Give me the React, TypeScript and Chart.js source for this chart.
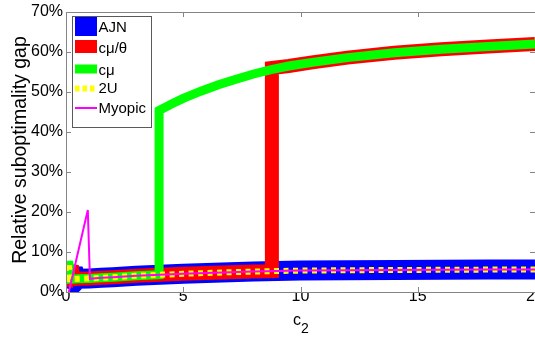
import React, { useEffect, useRef } from "react";
import { Chart, registerables } from "chart.js";

Chart.register(...registerables);

const FONT = '"Liberation Sans", Arial, Helvetica, sans-serif';

const xTickValues = [0, 5, 10, 15, 20];
const yTickValues = [0, 10, 20, 30, 40, 50, 60, 70];

const legendLabels = ["AJN", "cμ/θ", "cμ", "2U", "Myopic"];

const ajnX = [0, 0.3, 0.45, 0.5, 1, 1.5, 2, 3, 4, 5, 6, 7, 8, 9, 10, 12, 14, 16, 18, 20];
const ajnY = [1.0, 5.6, 3.0, 3.3, 3.4, 3.55, 3.7, 4.05, 4.3, 4.55, 4.75, 4.95, 5.1, 5.25, 5.35, 5.45, 5.5, 5.55, 5.6, 5.65];

const cmuThetaX = [0, 0.25, 0.3, 0.5, 1, 1.5, 2, 3, 4, 5, 6, 7, 8, 8.78, 8.78, 9.5, 10.5, 12, 14, 16, 18, 20];
const cmuThetaY = [1.5, 6.6, 3.2, 3.3, 3.4, 3.55, 3.7, 4.05, 4.3, 4.55, 4.75, 4.95, 5.1, 5.2, 56.0, 56.5, 57.4, 58.6, 59.8, 60.7, 61.4, 62.0];

const cmuX = [0, 0.13, 0.17, 0.5, 1, 1.5, 2, 3, 3.97, 3.97, 4.5, 5, 5.75, 6.5, 7.25, 8, 8.75, 9.5, 10.5, 12, 14, 16, 18, 20];
const cmuY = [6.7, 6.7, 3.2, 3.3, 3.4, 3.55, 3.7, 4.05, 4.3, 45.4, 47.0, 48.4, 50.2, 51.8, 53.2, 54.5, 55.6, 56.5, 57.4, 58.6, 59.8, 60.7, 61.4, 62.0];

const twoUX = [0, 0.13, 0.17, 0.5, 1, 1.5, 2, 3, 4, 5, 6, 7, 8, 9, 10, 12, 14, 16, 18, 20];
const twoUY = [6.0, 6.0, 3.2, 3.3, 3.4, 3.55, 3.7, 4.05, 4.3, 4.55, 4.75, 4.95, 5.1, 5.25, 5.35, 5.45, 5.5, 5.55, 5.6, 5.65];

const myopicX = [0.12, 0.93, 1.02, 1.5, 2, 3, 4, 5, 6, 7, 8, 9, 10, 12, 14, 16, 18, 20];
const myopicY = [0, 20.5, 3.3, 3.55, 3.7, 4.05, 4.3, 4.55, 4.75, 4.95, 5.1, 5.25, 5.35, 5.45, 5.5, 5.55, 5.6, 5.65];

const zip = (xs: number[], ys: number[]) => xs.map((x, i) => ({ x, y: ys[i] }));

const seriesStyles = [
  { color: "#0000FF", width: 20, legendWidth: 19, dash: [] as number[], order: 5 },
  { color: "#FF0000", width: 14, legendWidth: 13, dash: [] as number[], order: 4 },
  { color: "#00FF00", width: 9, legendWidth: 9, dash: [] as number[], order: 3 },
  { color: "#FFFF00", width: 6, legendWidth: 6, dash: [5, 4.5], order: 2 },
  { color: "#FF00FF", width: 2, legendWidth: 2, dash: [] as number[], order: 1 },
];

const miterPlugin = {
  id: "miterLimit",
  beforeDatasetsDraw(chart: any) {
    chart.ctx.miterLimit = 2;
  },
};

const framePlugin = {
  id: "matlabFrame",
  afterDraw(chart: any) {
    const { ctx, chartArea: a, scales } = chart;
    const xs = scales.x;
    const ys = scales.y;
    ctx.save();
    ctx.strokeStyle = "#858585";
    ctx.lineWidth = 1;
    ctx.beginPath();
    ctx.rect(a.left + 0.5, a.top + 0.5, a.right - a.left, a.bottom - a.top);
    ctx.stroke();
    ctx.beginPath();
    const tl = 5;
    xTickValues.forEach((v) => {
      const px = Math.round(xs.getPixelForValue(v)) + 0.5;
      ctx.moveTo(px, a.bottom);
      ctx.lineTo(px, a.bottom - tl);
      ctx.moveTo(px, a.top);
      ctx.lineTo(px, a.top + tl);
    });
    yTickValues.forEach((v) => {
      const py = Math.round(ys.getPixelForValue(v)) + 0.5;
      ctx.moveTo(a.left, py);
      ctx.lineTo(a.left + tl, py);
      ctx.moveTo(a.right, py);
      ctx.lineTo(a.right - tl, py);
    });
    ctx.stroke();

    ctx.fillStyle = "#000";
    ctx.textBaseline = "alphabetic";
    ctx.font = `19.5px ${FONT}`;
    ctx.save();
    ctx.translate(25.5, (a.top + a.bottom) / 2 - 2);
    ctx.rotate(-Math.PI / 2);
    ctx.textAlign = "center";
    ctx.fillText("Relative suboptimality gap", 0, 0);
    ctx.restore();

    ctx.textAlign = "left";
    const cx = (a.left + a.right) / 2;
    ctx.font = `16px ${FONT}`;
    ctx.fillText("c", cx - 7.5, 325);
    ctx.font = `14px ${FONT}`;
    ctx.fillText("2", cx + 0.5, 333);

    const bx = 72.5, by = 16.5, bw = 79, bh = 111;
    ctx.fillStyle = "#fff";
    ctx.fillRect(bx, by, bw, bh);
    ctx.strokeStyle = "#5a5a5a";
    ctx.lineWidth = 1;
    ctx.strokeRect(bx, by, bw, bh);

    const swatchY = [26.5, 46.5, 69, 88.5, 108];
    const textY = [27.5, 49, 70.5, 88.5, 108.5];
    ctx.save();
    ctx.beginPath();
    ctx.rect(bx + 0.5, by + 0.5, bw - 1, bh - 1);
    ctx.clip();
    seriesStyles.forEach((s, i) => {
      ctx.beginPath();
      ctx.strokeStyle = s.color;
      ctx.lineWidth = s.legendWidth;
      ctx.setLineDash(s.dash.length ? [4.5, 3] : []);
      ctx.lineCap = "butt";
      ctx.moveTo(75, swatchY[i]);
      ctx.lineTo(97, swatchY[i]);
      ctx.stroke();
    });
    ctx.restore();
    ctx.setLineDash([]);
    ctx.fillStyle = "#000";
    ctx.font = `15px ${FONT}`;
    ctx.textAlign = "left";
    ctx.textBaseline = "middle";
    legendLabels.forEach((t, i) => {
      ctx.fillText(t, 98.5, textY[i]);
    });
    ctx.restore();
  },
};

export default function App() {
  const ref = useRef<HTMLCanvasElement | null>(null);
  useEffect(() => {
    if (!ref.current) return;
    const seriesData = [
      zip(ajnX, ajnY),
      zip(cmuThetaX, cmuThetaY),
      zip(cmuX, cmuY),
      zip(twoUX, twoUY),
      zip(myopicX, myopicY),
    ];
    const chart = new Chart(ref.current, {
      type: "line",
      data: {
        datasets: seriesData.map((d, i) => ({
          label: legendLabels[i],
          data: d,
          borderColor: seriesStyles[i].color,
          backgroundColor: seriesStyles[i].color,
          borderWidth: seriesStyles[i].width,
          borderDash: seriesStyles[i].dash,
          borderJoinStyle: "miter",
          borderCapStyle: "butt",
          pointRadius: 0,
          tension: 0,
          fill: false,
          clip: 0,
          order: seriesStyles[i].order,
        })),
      },
      options: {
        animation: false,
        responsive: false,
        events: [],
        layout: { padding: { top: 12, right: 0, left: 0, bottom: 0 } },
        plugins: {
          legend: { display: false },
          tooltip: { enabled: false },
          title: { display: false },
        },
        scales: {
          x: {
            type: "linear",
            min: 0,
            max: 20,
            grid: { display: false, drawTicks: false, tickLength: 0 },
            border: { display: false },
            afterBuildTicks: (s: any) => {
              s.ticks = xTickValues.map((v) => ({ value: v }));
            },
            ticks: {
              color: "#000",
              font: { family: FONT, size: 16 },
              padding: -5,
              maxRotation: 0,
              autoSkip: false,
              callback: (v: any) => String(v),
            },
            afterFit: (s: any) => {
              s.height = 46;
              s.paddingLeft = 0;
              s.paddingRight = 0;
            },
          },
          y: {
            type: "linear",
            min: 0,
            max: 70,
            grid: { display: false, drawTicks: false, tickLength: 0 },
            border: { display: false },
            afterBuildTicks: (s: any) => {
              s.ticks = yTickValues.map((v) => ({ value: v }));
            },
            ticks: {
              color: "#000",
              font: { family: FONT, size: 16 },
              padding: 3,
              autoSkip: false,
              callback: (v: any) => `${v}%`,
            },
            afterFit: (s: any) => {
              s.width = 66;
              s.paddingTop = 0;
              s.paddingBottom = 0;
            },
          },
        },
      },
      plugins: [miterPlugin, framePlugin],
    } as any);
    return () => chart.destroy();
  }, []);
  return (
    <div style={{ width: 535, height: 338, position: "relative", background: "#fff" }}>
      <style>{`html,body{margin:0;padding:0;overflow:hidden;background:#fff}`}</style>
      <canvas ref={ref} width={535} height={338} style={{ display: "block", width: 535, height: 338 }} />
    </div>
  );
}
